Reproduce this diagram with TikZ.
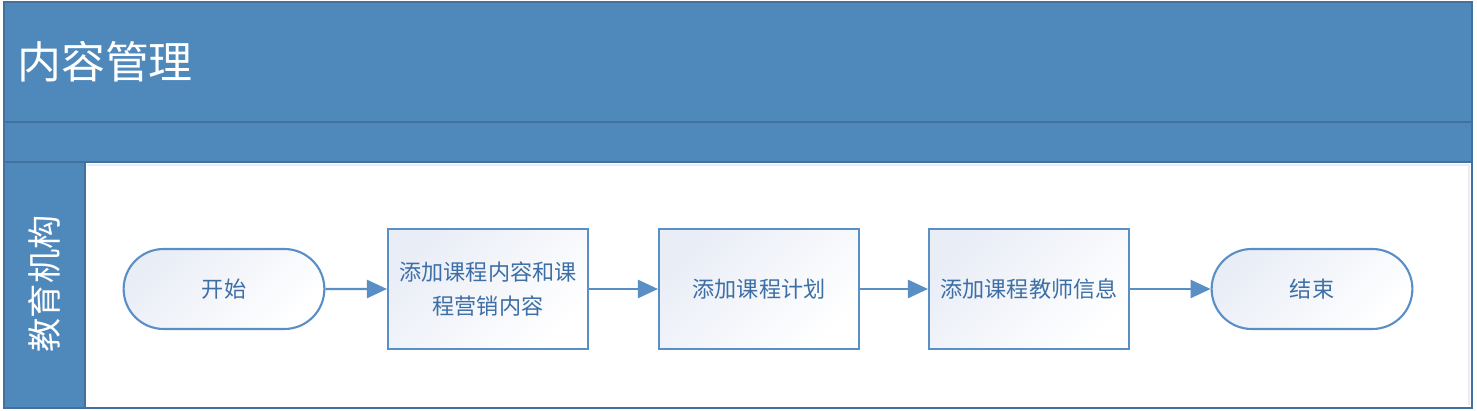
\documentclass[tikz,border=0pt]{standalone}
\usepackage{fontspec}
\newfontfamily\cjk{Noto Sans CJK SC}
\XeTeXlinebreaklocale "zh"
\usetikzlibrary{positioning,shapes.misc,arrows.meta}
\definecolor{band}{HTML}{4F88BB}
\definecolor{bandline}{HTML}{41719C}
\definecolor{nodeline}{HTML}{5A8FC6}
\definecolor{nodetext}{HTML}{3D6FA6}
\definecolor{tint}{HTML}{E9EDF6}
\tikzset{
  box/.style={draw=nodeline, line width=1.2pt, minimum width=4cm, minimum height=2.4cm,
    align=center, font=\cjk\fontsize{12.6}{19}\selectfont, text=nodetext,
    top color=tint, bottom color=white, shading angle=45},
  term/.style={box, rounded rectangle, minimum width=4.25cm, minimum height=1.6cm},
  flow/.style={draw=nodeline, line width=1.4pt, -{Triangle[length=4mm,width=3.6mm]}}
}
\begin{document}
\begin{tikzpicture}[x=0.02cm, y=-0.02cm, font=\cjk]
      \useasboundingbox (0, 0) rectangle (1477, 411);
      \fill[white] (0, 0) rectangle (1477, 411);
      % pool and lane
      \draw[bandline, fill=band, line width=1.2pt] (4, 2) rectangle (1472, 122)
            (4, 122) rectangle (1472, 162)
            (4, 162) rectangle (85, 408);
      \draw[bandline, line width=1.2pt] (85, 162) rectangle (1472, 408);
      \draw[tint, line width=1.5pt] (87, 165) -- (1469, 165) -- (1469, 405);
      \node (pool) [anchor=west, text=white, font=\cjk\fontsize{25}{30}\selectfont] at (11, 62) {内容管理};
      \node (lane) [rotate=90, text=white, font=\cjk\fontsize{19.5}{22}\selectfont] at (44, 284) {教育机构};
      % steps
      \node (start) [term] at (224, 289) {开始};
      \node (add) [box] at (488, 289) {添加课程内容和课\\程营销内容};
      \node (plan) [box] at (759, 289) {添加课程计划};
      \node (teacher) [box] at (1029, 289) {添加课程教师信息};
      \node (stop) [term] at (1312, 289) {结束};
      \draw[flow] (start) -- (add);
      \draw[flow] (add) -- (plan);
      \draw[flow] (plan) -- (teacher);
      \draw[flow] (teacher) -- (stop);
\end{tikzpicture}
\end{document}
